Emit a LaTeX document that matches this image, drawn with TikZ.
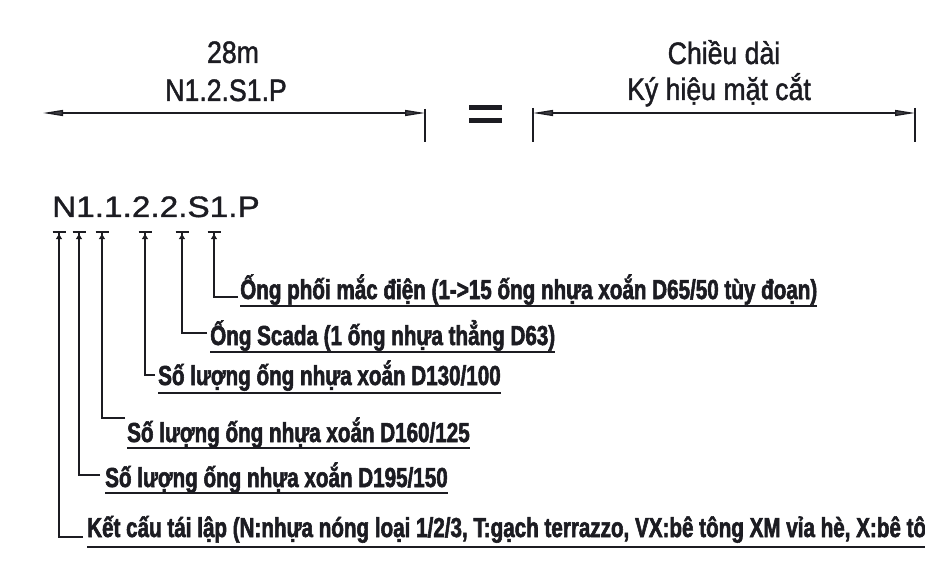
\documentclass[tikz,border=0pt]{standalone}
\usepackage{fontspec}
\setmainfont{Liberation Sans}
\newfontfamily\topfont{Liberation Sans}[FakeStretch=0.86, FakeBold=1.4]
\newfontfamily\codefont{Liberation Sans}[FakeStretch=1.13, FakeBold=1.2]
\newfontfamily\lblfont{Liberation Sans}[FakeStretch=0.75, BoldFeatures={FakeBold=2}]
\usetikzlibrary{arrows.meta}
\definecolor{ink}{HTML}{1C1C22}
\tikzset{
  toptext/.style={anchor=base, inner sep=0pt, text=ink, font=\topfont\fontsize{31}{34}\selectfont},
  codetext/.style={anchor=base west, inner sep=0pt, text=ink, font=\codefont\fontsize{29.5}{32}\selectfont},
  lbl/.style={anchor=base west, inner sep=0pt, text=ink, font=\lblfont\bfseries\fontsize{27.5}{30}\selectfont},
  dimline/.style={draw=ink, line width=1.3pt, {Triangle[length=20pt,width=6pt,fill=ink!85]}-{Triangle[length=20pt,width=6pt,fill=ink!85]}},
  tick/.style={draw=ink, line width=1.6pt},
  stem/.style={draw=ink, line width=2.2pt, -{Latex[length=6pt,width=7pt] Bar[width=13pt,line width=2.2pt]}},
  uline/.style={draw=ink, line width=2.6pt}
}
\begin{document}
\begin{tikzpicture}[x=1pt,y=-1pt]
\useasboundingbox (0,0) rectangle (925,569);
\clip (0,0) rectangle (925,569);
\fill[white] (0,0) rectangle (925,569);

% top left dimension
\node[toptext] (len) at (233,63) {28m};
\node[toptext] (sym) at (226,101) {N1.2.S1.P};
\coordinate (a1) at (43,113);
\coordinate (a2) at (425,113);
\draw[dimline] (a1) -- (a2);
\coordinate (a2t) at (425,109);
\coordinate (a2b) at (425,142);
\draw[tick] (a2t) -- (a2b);

% equals sign
\coordinate (e1) at (469,107.5);
\coordinate (e2) at (502,107.5);
\coordinate (e3) at (469,120.5);
\coordinate (e4) at (502,120.5);
\draw[draw=ink, line width=4.5pt] (e1) -- (e2);
\draw[draw=ink, line width=4.5pt] (e3) -- (e4);

% top right dimension
\node[toptext] (cd) at (724,64) {Chiều dài};
\node[toptext] (kh) at (719,100) {Ký hiệu mặt cắt};
\coordinate (b1) at (533,113);
\coordinate (b2) at (915,113);
\draw[dimline] (b1) -- (b2);
\coordinate (b1t) at (533,108);
\coordinate (b1b) at (533,142);
\coordinate (b2t) at (915,108);
\coordinate (b2b) at (915,142);
\draw[tick] (b1t) -- (b1b);
\draw[tick] (b2t) -- (b2b);

% code
\node[codetext] (code) at (52,217) {N1.1.2.2.S1.P};

% tips under the code
\coordinate (t6) at (59,231);
\coordinate (t5) at (79,231);
\coordinate (t4) at (102,231);
\coordinate (t3) at (145,231);
\coordinate (t2) at (182,231);
\coordinate (t1) at (214,231);

% labels
\node[lbl] (l1) at (240,299) {Ống phối mắc điện (1->15 ống nhựa xoắn D65/50 tùy đoạn)};
\node[lbl] (l2) at (210,345) {Ống Scada (1 ống nhựa thẳng D63)};
\node[lbl] (l3) at (158,385) {Số lượng ống nhựa xoắn D130/100};
\node[lbl] (l4) at (127,442) {Số lượng ống nhựa xoắn D160/125};
\node[lbl] (l5) at (105,487) {Số lượng ống nhựa xoắn D195/150};
\node[lbl] (l6) at (87,537) {Kết cấu tái lập (N:nhựa nóng loại 1/2/3, T:gạch terrazzo, VX:bê tông XM vỉa hè, X:bê tô};

\foreach \n/\d in {l1/7, l2/7, l3/8, l4/6, l5/6, l6/10}{
  \draw[uline] ([yshift=-\d pt]\n.base west) -- ([yshift=-\d pt]\n.base east);
}

% elbow ends
\coordinate (c1) at (238,297);
\coordinate (c2) at (207,333);
\coordinate (c3) at (155,375);
\coordinate (c4) at (125,418);
\coordinate (c5) at (100,475);
\coordinate (c6) at (83,537);

\draw[stem] (c1) -| (t1);
\draw[stem] (c2) -| (t2);
\draw[stem] (c3) -| (t3);
\draw[stem] (c4) -| (t4);
\draw[stem] (c5) -| (t5);
\draw[stem] (c6) -| (t6);
\end{tikzpicture}
\end{document}
